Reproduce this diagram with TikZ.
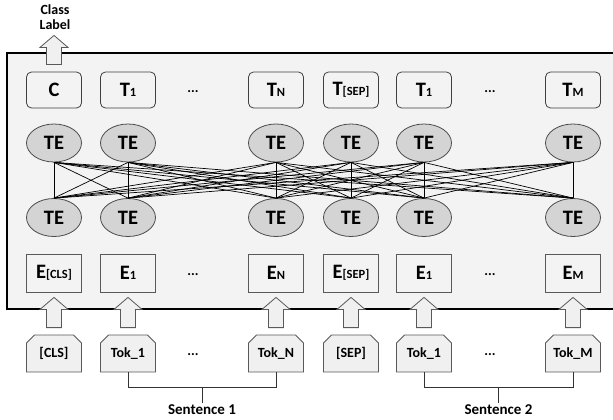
\documentclass[tikz,border=0pt]{standalone}
\usepackage{fontspec}
\setmainfont{Carlito}
\usetikzlibrary{calc,positioning,shapes.geometric,shapes.misc}

\definecolor{bggray}{HTML}{F3F3F3}
\definecolor{tegray}{HTML}{D4D4D4}
\definecolor{tokgray}{HTML}{F0F0F0}

\newcommand{\bigf}{\fontsize{20.5}{22}\selectfont\bfseries}
\newcommand{\lsub}[1]{{\fontsize{12.5}{13}\selectfont #1}}
% hollow block arrow from one node up to another
\newcommand{\blockup}[2]{%
  \draw[blockarrow] let \p1=(#1.north), \p2=(#2.south) in
    (\x1-7.5pt,\y1+7pt) -- (\x1-7.5pt,\y2-17pt) -- (\x1-14pt,\y2-17pt) -- (\x1,\y2-5pt)
    -- (\x1+14pt,\y2-17pt) -- (\x1+7.5pt,\y2-17pt) -- (\x1+7.5pt,\y1+7pt) -- cycle;}

\begin{document}
\begin{tikzpicture}[x={(1pt,0pt)},y={(0pt,-1pt)},
  tbox/.style={draw=black!75, line width=0.8pt, rounded corners=5pt, fill=bggray,
    minimum width=55, minimum height=36, inner sep=0, font=\bigf},
  te/.style={ellipse, draw=black!70, line width=0.8pt, fill=tegray,
    minimum width=55, minimum height=38, inner sep=0, font=\bigf},
  ebox/.style={draw=black!65, line width=0.8pt, fill=bggray,
    minimum width=55, minimum height=38, inner sep=0, font=\bigf},
  tok/.style={chamfered rectangle, chamfered rectangle corners={north west,north east},
    chamfered rectangle xsep=4pt, chamfered rectangle ysep=4pt,
    draw=black!65, line width=0.8pt, fill=tokgray,
    minimum width=55, minimum height=37, inner sep=0, font=\fontsize{14}{15}\selectfont\bfseries},
  dots/.style={font=\fontsize{14}{15}\selectfont\bfseries, inner sep=1pt},
  conn/.style={black, line width=0.7pt},
  blockarrow/.style={draw=black!65, line width=0.8pt, fill=tokgray},
  bracket/.style={black!80, line width=0.8pt},
  sent/.style={font=\fontsize{15}{16}\selectfont\bfseries, inner sep=1pt}]

\useasboundingbox (0,0) rectangle (613,420);

% outer frame
\draw[line width=1.6pt, fill=bggray] (7,53) rectangle (630,309);

% output row
\node[tbox] (c) at (54,90) {C};
\node[tbox] (t1) at (128,90) {T\lsub{1}};
\node[dots] (td1) at (193,92) {...};
\node[tbox] (tn) at (276,90) {T\lsub{N}};
\node[tbox] (tsep) at (351,90) {T\lsub{[SEP]}};
\node[tbox] (t1b) at (424,90) {T\lsub{1}};
\node[dots] (td2) at (490,92) {...};
\node[tbox] (tm) at (573,90) {T\lsub{M}};

% two layers of TE, fully connected
\foreach \x [count=\i] in {54,128,276,351,424,573} {
  \node[te] (up\i) at (\x,143) {TE};
  \node[te] (lo\i) at (\x,217.5) {TE};
}
\foreach \i in {1,...,6}
  \foreach \j in {1,...,6}
    \draw[conn] (up\i.south) -- (lo\j.north);

% embeddings
\node[ebox] (e0) at (54,273) {E\lsub{[CLS]}};
\node[ebox] (e1) at (128,273) {E\lsub{1}};
\node[dots] (ed1) at (193,275) {...};
\node[ebox] (en) at (276,273) {E\lsub{N}};
\node[ebox] (esep) at (351,273) {E\lsub{[SEP]}};
\node[ebox] (e1b) at (424,273) {E\lsub{1}};
\node[dots] (ed2) at (490,275) {...};
\node[ebox] (em) at (573,273) {E\lsub{M}};

% input tokens
\node[tok] (k0) at (54,353.5) {[CLS]};
\node[tok] (k1) at (128,353.5) {Tok\_1};
\node[dots] (kd1) at (193,355) {...};
\node[tok] (kn) at (276,353.5) {Tok\_N};
\node[tok] (ksep) at (351,353.5) {[SEP]};
\node[tok] (k1b) at (424,353.5) {Tok\_1};
\node[dots] (kd2) at (490,355) {...};
\node[tok] (km) at (573,353.5) {Tok\_M};

% class label
\node[align=center, font=\fontsize{14}{14.5}\selectfont\bfseries, inner sep=1pt] (lbl) at (55,17) {Class\\Label};

% block arrows
\blockup{c}{lbl}
\blockup{k0}{e0}
\blockup{k1}{e1}
\blockup{kn}{en}
\blockup{ksep}{esep}
\blockup{k1b}{e1b}
\blockup{km}{em}

% sentence brackets
\draw[bracket] (k1.south) -- ++(0,15) coordinate (b1) -| (kn.south);
\draw[bracket] (k1b.south) -- ++(0,15) coordinate (b2) -| (km.south);
\node[sent] (s1) at ($(k1.south)!0.5!(kn.south)+(0,37)$) {Sentence 1};
\node[sent] (s2) at ($(k1b.south)!0.5!(km.south)+(0,37)$) {Sentence 2};
\draw[bracket] (s1.north) -- (s1.north |- b1);
\draw[bracket] (s2.north) -- (s2.north |- b2);
\end{tikzpicture}
\end{document}
